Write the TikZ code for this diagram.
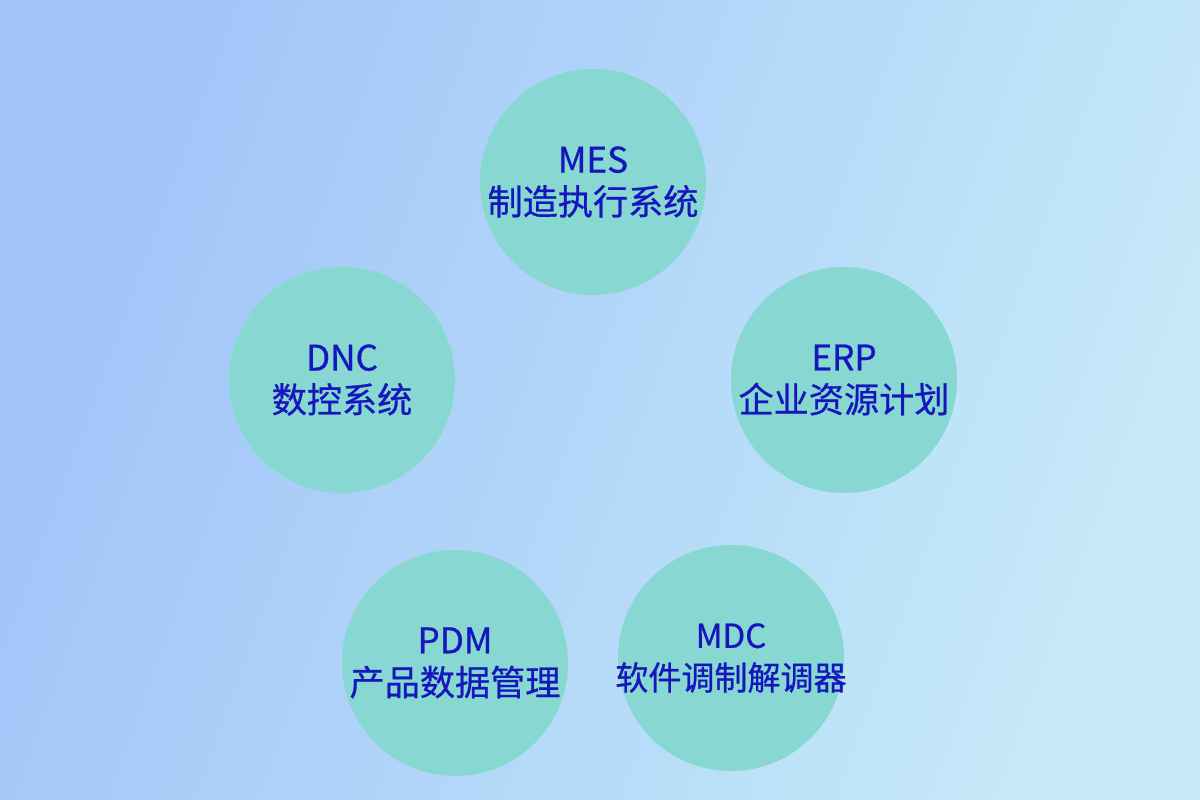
\documentclass[tikz,border=0pt]{standalone}
\usepackage{fontspec}
\setmainfont{Noto Sans CJK SC}
\newfontfamily\ballfont[FakeBold=0.7]{Noto Sans CJK SC}
\definecolor{bgleft}{HTML}{A0C4F8}
\definecolor{bgmid}{HTML}{BEE4F8}
\definecolor{bgright}{HTML}{C6EAF8}
\definecolor{ballfill}{HTML}{86D8D0}
\definecolor{balltext}{HTML}{1616BE}
\begin{document}
\begin{tikzpicture}[
    sysball/.style={circle, fill=ballfill, minimum size=2.26cm, inner sep=0pt},
    systext/.style={align=center, text=balltext, font=\ballfont\fontsize{10}{12}\selectfont}]
    \useasboundingbox (0,0) rectangle (12,8);
    % background
    \shade[left color=bgleft, middle color=bgmid, right color=bgright, shading angle=70]
        (0,0) rectangle (12,8);
    \node[sysball, label={[systext]center:MES\\制造执行系统}] (mes) at (5.93,6.18) {};
    \node[sysball, label={[systext]center:DNC\\数控系统}] (dnc) at (3.42,4.20) {};
    \node[sysball, label={[systext]center:ERP\\企业资源计划}] (erp) at (8.44,4.20) {};
    \node[sysball, label={[systext]center:PDM\\产品数据管理}] (pdm) at (4.55,1.37) {};
    \node[sysball, label={[systext, font=\ballfont\fontsize{9.4}{12}\selectfont]center:MDC\\软件调制解调器}] (mdc) at (7.31,1.42) {};
\end{tikzpicture}
\end{document}
